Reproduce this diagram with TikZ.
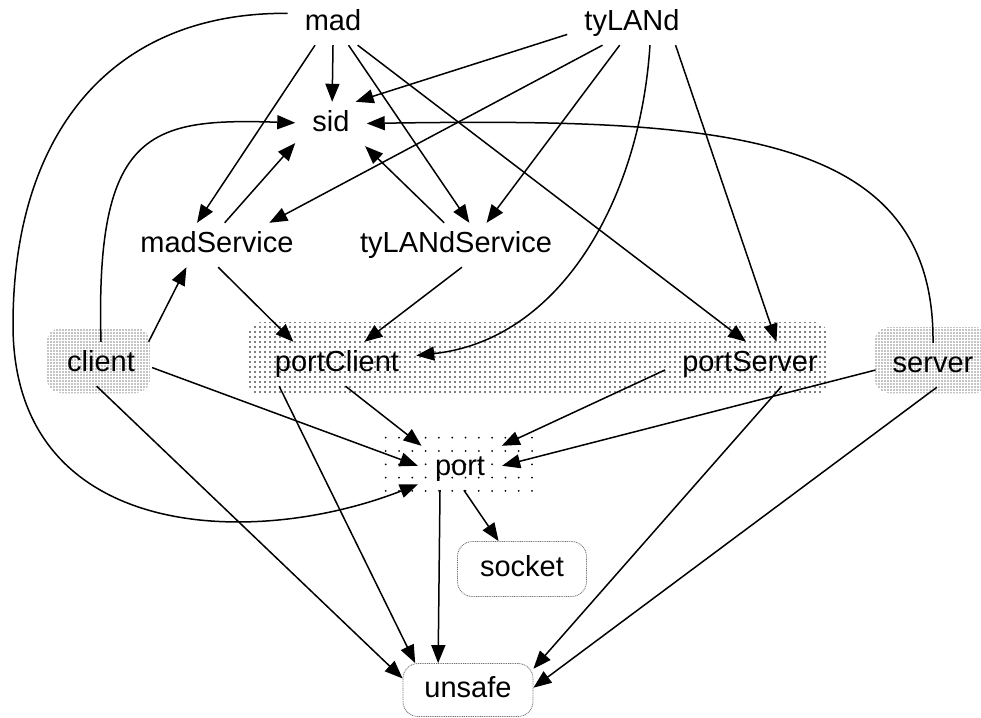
\documentclass[tikz,border=0pt]{standalone}
\usepackage{fontspec}
\setmainfont{Liberation Sans}
\usetikzlibrary{arrows.meta,patterns.meta}

\begin{document}
\begin{tikzpicture}[x=1pt,y=-1pt,
  every node/.style={font=\fontsize{29}{34}\selectfont},
  lbl/.style={rectangle, inner xsep=17pt, inner ysep=0pt, minimum height=44pt,
              text height=21pt, text depth=6pt},
  leaf/.style={lbl, draw=black!55, line width=0.8pt, dash pattern=on 1pt off 0.8pt,
               rounded corners=15pt, fill=white},
  link/.style={line width=1.5pt, -{Triangle[length=18pt,width=14pt]}},
  densedots/.style={pattern={Dots[distance=3pt,radius=0.68pt]}},
  meddots/.style={pattern={Dots[distance=5pt,radius=0.8pt]}},
  sparsedots/.style={pattern={Dots[distance=13.3pt,radius=1pt]}},
]
\useasboundingbox (0,0) rectangle (981,717);

% cluster backgrounds
\path[densedots, rounded corners=14pt] (47,328) rectangle (150,393);
\path[meddots, rounded corners=14pt] (248,322) rectangle (828,395);
\path[densedots, rounded corners=14pt] (875,327) rectangle (990,393);
\path[sparsedots] (382,430) rectangle (543,498);

% nodes
\node[lbl] (mad) at (333,23) {mad};
\node[lbl] (tyLANd) at (632,23) {tyLANd};
\node[lbl] (sid) at (331,124) {sid};
\node[lbl] (madService) at (217,245) {madService};
\node[lbl] (tyLANdService) at (456,245) {tyLANdService};
\node[lbl] (client) at (101,364) {client};
\node[lbl] (portClient) at (337,364) {portClient};
\node[lbl] (portServer) at (750,364) {portServer};
\node[lbl] (server) at (933,365) {server};
\node[lbl] (port) at (460,468) {port};
\node[leaf, minimum width=129pt, minimum height=55pt] (socket) at (522,569) {socket};
\node[leaf, minimum width=130pt, minimum height=53pt] (unsafe) at (468,690) {unsafe};

\coordinate (loopL) at (13,325);

% edges from mad
\draw[link] (mad.-90) -- (sid.87);
\draw[link] (mad.-129) -- (madService.132);
\draw[link] (mad.-55) -- (tyLANdService.59);
\draw[link] (mad.-42) -- (portServer.100);
\draw[link] (mad.168) .. controls (110,12) and (13,135) .. (loopL)
                      .. controls (13,540) and (250,550) .. (port);

% edges from tyLANd
\draw[link] (tyLANd.-170) -- (sid.42);
\draw[link] (tyLANd.-143) -- (madService.23);
\draw[link] (tyLANd.-119) -- (tyLANdService.36);
\draw[link] (tyLANd.-51) .. controls (640,200) and (560,340) .. (portClient);
\draw[link] (tyLANd.-27) -- (portServer.40);

% edges from client
\draw[link] (client.north) .. controls (95,130) and (150,118) .. (sid);
\draw[link] (client.25) -- (madService.-144);
\draw[link] (client.-4) -- (port.177);
\draw[link] (client.-101) -- (unsafe.170);

% service edges
\draw[link] (madService.71) -- (sid.-152);
\draw[link] (madService.-87) -- (portClient.153);
\draw[link] (tyLANdService.118) -- (sid.-33);
\draw[link] (tyLANdService.-75) -- (portClient.39);

% port clusters
\draw[link] (portClient.-69) -- (port.150);
\draw[link] (portClient.-159) -- (unsafe.153);
\draw[link] (portServer.-176) -- (port.28);
\draw[link] (portServer.-35) -- (unsafe.18);

% edges from server
\draw[link] (server.north) .. controls (935,130) and (720,118) .. (sid);
\draw[link] (server.-175) -- (port.3);
\draw[link] (server.-80) -- (unsafe.2);

% edges from port
\draw[link] (port.-80) -- (socket.130);
\draw[link] (port.-132) -- (unsafe.138);
\end{tikzpicture}
\end{document}
